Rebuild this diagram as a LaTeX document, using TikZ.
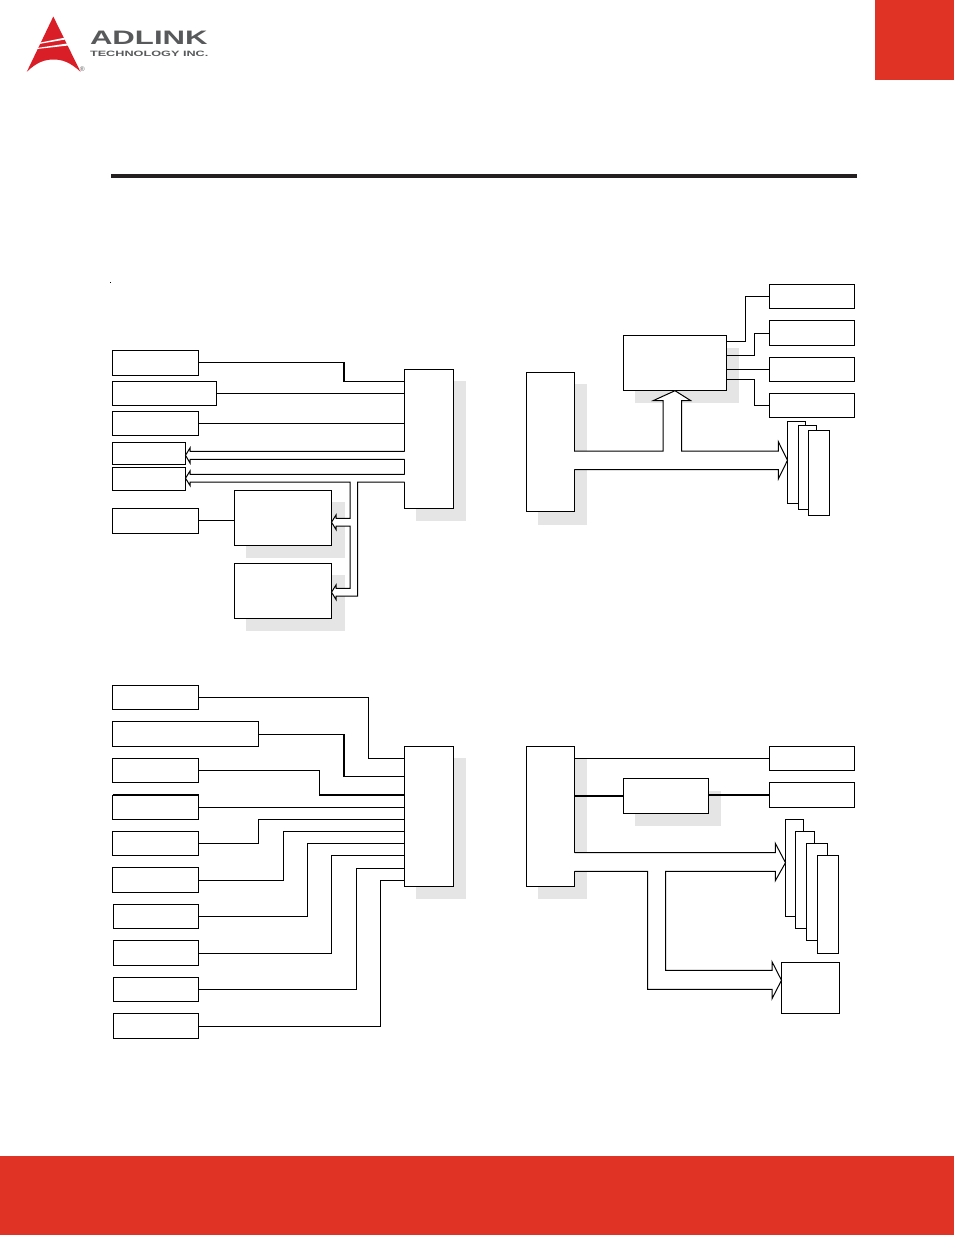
\documentclass[tikz,border=0pt]{standalone}
\usepackage{fontspec}
\setmainfont{Liberation Sans}
\usetikzlibrary{fit}
\definecolor{adred}{RGB}{225,50,38}
\definecolor{logored}{RGB}{218,30,40}
\definecolor{logogray}{RGB}{88,89,91}
\definecolor{rulek}{RGB}{35,31,32}
\definecolor{shade}{RGB}{229,229,229}
\tikzset{
  boxn/.style={draw=black,fill=white,line width=0.75pt,inner sep=0pt,outer sep=0pt,shape=rectangle},
  wire/.style={draw=black,line width=0.75pt,line join=miter},
  wirebold/.style={draw=black,line width=1.5pt},
  busarrow/.style={draw=black,fill=white,line width=0.75pt,line join=miter},
  shadowbox/.style={fill=shade},
  band/.style={fill=adred},
  mouth/.style={fill=white}
}
\newcommand\bx[5]{\node[boxn,fit={(#2,#3) (#4,#5)}] (#1) {};}
\begin{document}
\begin{tikzpicture}[x=0.75pt,y=-0.75pt]
\useasboundingbox (0,0) rectangle (954,1235);
% page furniture
\fill[band] (875,0) rectangle (954,80);
\fill[band] (0,1156) rectangle (954,1235);
\fill[rulek] (111,174) rectangle (857,178);
\fill[black] (109.8,281.6) rectangle (110.6,282.4);
% logo
\fill[logored] (53.3,16.5) -- (80.5,71.8) .. controls (70,62) and (62,59.5) .. (53.5,59.5) .. controls (45,59.5) and (37,62) .. (26.8,71.8) -- cycle;
\fill[white] (40,42.6) -- (65,37.6) -- (66,39.4) -- (40,43.8) -- cycle;
\fill[white] (37,48) -- (68,43.4) -- (69,45.4) -- (37,49) -- cycle;
\node[inner sep=0pt,outer sep=0pt,anchor=center,text=logogray,font=\fontsize{5}{5}\selectfont] (regmark) at (82.4,69) {®};
\node[inner sep=0pt,outer sep=0pt,anchor=base west,text=logogray,xscale=1.6,transform shape,font=\fontsize{14.6}{15}\bfseries\selectfont] (logoname) at (90,44) {ADLINK};
\node[inner sep=0pt,outer sep=0pt,anchor=base west,text=logogray,xscale=1.64,transform shape,font=\fontsize{5.8}{6}\bfseries\selectfont] (logosub) at (90,56.8) {TECHNOLOGY INC.};
% shadows
\fill[shadowbox] (416,381) rectangle (466,521);
\fill[shadowbox] (246,502) rectangle (345,558);
\fill[shadowbox] (246,575) rectangle (345,631);
\fill[shadowbox] (635,348) rectangle (739,403);
\fill[shadowbox] (538,384) rectangle (587,525);
\fill[shadowbox] (416,758) rectangle (466,899);
\fill[shadowbox] (538,759) rectangle (587,899);
\fill[shadowbox] (635,791) rectangle (721,826);
% ---- top left boxes
\bx{a1}{112.5}{350.5}{198.5}{375}
\bx{a2}{112.5}{381.5}{216.5}{405}
\bx{a3}{112.5}{411.5}{198.5}{435.5}
\bx{a4}{112.5}{442.5}{185.5}{464.5}
\bx{a5}{112.5}{467.5}{185.5}{490}
\bx{a6}{112.5}{508.5}{198.5}{533}
\bx{b1}{234.5}{490.5}{331.5}{545.5}
\bx{b2}{234.5}{563.5}{331.5}{618.5}
\bx{c}{404.5}{369.5}{453.5}{508.5}
\draw[wire] (a1.east |- 0,362.5) -- (344,362.5) -- (344,381.5) -- (c.west |- 0,381.5);
\draw[wirebold] (344,362.5) -- (344,381.5);
\draw[wire] (a2.east |- 0,393.3) -- (c.west |- 0,393.3);
\draw[wire] (a3.east |- 0,423.3) -- (c.west |- 0,423.3);
\draw[wire] (a6.east) -- (b1.west |- a6.east);
% hollow buses, open where they meet the box
\fill[mouth] (403.5,451.8) rectangle (405.5,458.8);
\fill[mouth] (403.5,474.8) rectangle (405.5,481.5);
\path[busarrow] (c.west |- 0,451.3) -- (190,451.3) -- (190,448) -- (a4.east |- 0,455.3) -- (190,463) -- (190,459.3) -- (c.west |- 0,459.3);
\path[busarrow] (c.west |- 0,474.3) -- (190,474.3) -- (190,471) -- (a5.east |- 0,478.2) -- (190,485.5) -- (190,482) -- (350,482) -- (350,518.3) -- (336,518.3) -- (336,515) -- (b1.east |- 0,522.2) -- (336,529.5) -- (336,526) -- (350,526) -- (350,588.3) -- (336,588.3) -- (336,585) -- (b2.east |- 0,592.2) -- (336,599.5) -- (336,596) -- (357.5,596) -- (357.5,482) -- (c.west |- 0,482);
% ---- top right
\bx{d1}{769.5}{284.5}{854.5}{308.5}
\bx{d2}{769.5}{320.5}{854.5}{345.5}
\bx{d3}{769.5}{357.5}{854.5}{381.5}
\bx{d4}{769.5}{393.5}{854.5}{417.5}
\bx{e}{623.5}{335.5}{726.5}{390.5}
\bx{f}{526.5}{372.5}{574.5}{511.5}
\bx{g1}{787.5}{421.5}{805.5}{503.5}
\bx{g2}{798.5}{425.5}{816.5}{509.5}
\bx{g3}{808.5}{430.5}{829.5}{515.5}
\draw[wire] (e.east |- 0,341.7) -- (745.5,341.7) -- (745.5,296.5) -- (d1.west);
\draw[wire] (e.east |- 0,355.5) -- (754.5,355.5) -- (754.5,333) -- (d2.west);
\draw[wire] (e.east |- 0,369.5) -- (d3.west);
\draw[wire] (e.east |- 0,379.3) -- (754.5,379.3) -- (754.5,405.5) -- (d4.west);
\fill[mouth] (573.5,451.5) rectangle (575.5,469);
\path[busarrow] (f.east |- 0,451) -- (663,451) -- (663,400.5) -- (653.5,400.5) -- (e.south |- 0,390.7) -- (690.5,400.5) -- (681.5,400.5) -- (681.5,451) -- (778.3,451) -- (778.3,441.7) -- (g1.west |- 0,460.3) -- (778.3,479) -- (778.3,469.5) -- (f.east |- 0,469.5);
% ---- bottom left
\bx{m1}{112.5}{685.5}{198.5}{709.5}
\bx{m2}{112.5}{721.5}{258.5}{746.5}
\bx{m3}{112.5}{758.5}{198.5}{782.5}
\bx{m4}{112.5}{795}{198.5}{819.5}
\bx{m5}{112.5}{831.5}{198.5}{855.5}
\bx{m6}{112.5}{867.5}{198.5}{892.5}
\bx{m7}{113.5}{904.5}{198.5}{928.5}
\bx{m8}{113.5}{940.5}{198.5}{965.5}
\bx{m9}{113.5}{977.5}{198.5}{1001.5}
\bx{m10}{113.5}{1013.5}{198.5}{1038.5}
\bx{n}{404.5}{746.5}{453.5}{886.5}
\draw[wirebold,line width=1.1pt] (m4.north west) -- (m4.north east);
\draw[wire] (m1.east) -- (368.5,697.5) -- (368.5,758.5) -- (n.west |- 0,758.5);
\draw[wire] (m2.east) -- (344,734) -- (344,776.5) -- (n.west |- 0,776.5);
\draw[wirebold] (344,734) -- (344,776.5);
\draw[wire] (m3.east) -- (319.5,770.5) -- (319.5,795) -- (n.west |- 0,795);
\draw[wirebold] (319.5,795) -- (n.west |- 0,795);
\draw[wire] (m4.east |- 0,807.5) -- (n.west |- 0,807.5);
\draw[wire] (m5.east) -- (258.5,843.5) -- (258.5,819.5) -- (n.west |- 0,819.5);
\draw[wire] (m6.east) -- (283.5,880) -- (283.5,831.5) -- (n.west |- 0,831.5);
\draw[wire] (m7.east) -- (307.5,916.5) -- (307.5,843.5) -- (n.west |- 0,843.5);
\draw[wire] (m8.east) -- (331.5,953) -- (331.5,855.5) -- (n.west |- 0,855.5);
\draw[wire] (m9.east) -- (356.5,989.5) -- (356.5,868.5) -- (n.west |- 0,868.5);
\draw[wire] (m10.east) -- (380.5,1026) -- (380.5,880.5) -- (n.west |- 0,880.5);
% ---- bottom right
\bx{h}{526.5}{746.5}{574.5}{886.5}
\bx{i1}{769.5}{746.5}{854.5}{770.5}
\bx{i2}{769.5}{782.5}{854.5}{807.5}
\bx{j}{623.5}{778.5}{708.5}{813.5}
\bx{k1}{785.5}{819.5}{803.5}{916.5}
\bx{k2}{795.5}{831.5}{814.5}{928.5}
\bx{k3}{806.5}{843.5}{827.5}{940.5}
\bx{k4}{817.5}{855.5}{838.5}{953.5}
\bx{l}{781.5}{962.5}{839.5}{1013.5}
\draw[wire] (h.east |- i1.west) -- (i1.west);
\draw[wirebold] (h.east |- j.west) -- (j.west);
\draw[wirebold] (j.east |- i2.west) -- (i2.west);
\fill[mouth] (573.5,853.2) rectangle (575.5,870.8);
\path[busarrow] (h.east |- 0,852.7) -- (775.3,852.7) -- (775.3,843.3) -- (k1.west |- 0,862.7) -- (775.3,880.7) -- (775.3,871.3) -- (665.7,871.3) -- (665.7,970.3) -- (772,970.3) -- (772,961.7) -- (l.west |- 0,980.3) -- (772,998.7) -- (772,989.3) -- (647.5,989.3) -- (647.5,871.3) -- (h.east |- 0,871.3);
\end{tikzpicture}
\end{document}
